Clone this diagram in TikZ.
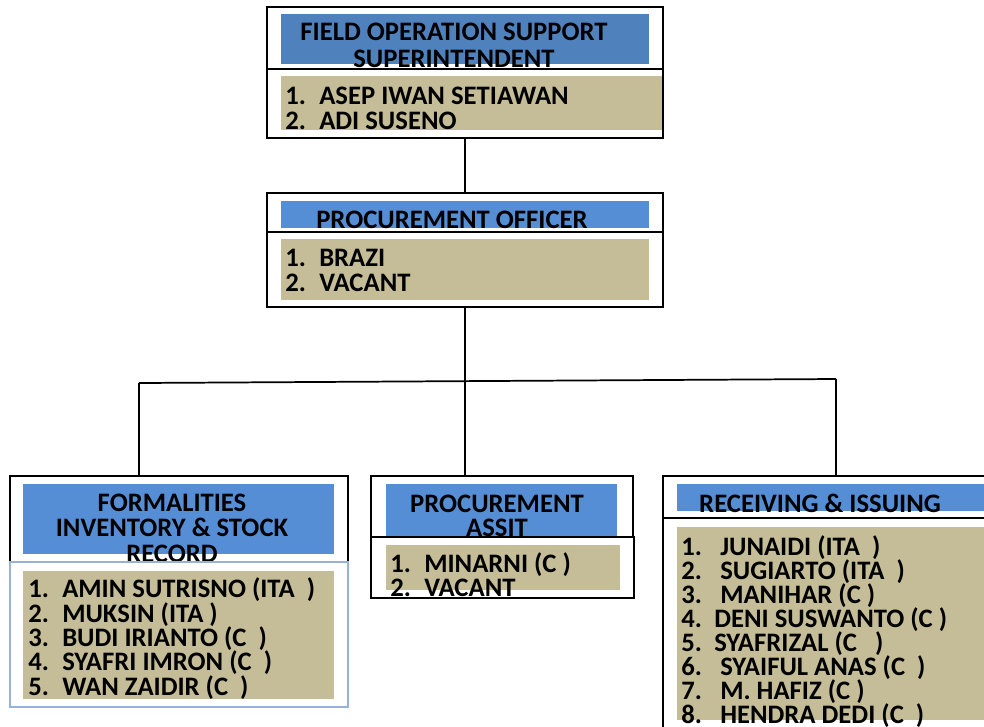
\documentclass[tikz,border=0pt]{standalone}
\usepackage{fontspec}
\setmainfont{Carlito}
\usetikzlibrary{positioning,fit}
\definecolor{headblue}{RGB}{79,129,189}
\definecolor{titleblue}{RGB}{85,142,213}
\definecolor{nametan}{RGB}{196,189,151}
\definecolor{edgeblue}{RGB}{149,179,215}
% number column in the name lists
\newcommand{\nr}[2][25.5pt]{\makebox[#1][l]{#2}}

\begin{document}
\begin{tikzpicture}[
    x=0.75pt, y=-0.75pt,
    font=\fontsize{20}{18}\selectfont\bfseries,
    frame/.style={draw=black, line width=1.3pt, inner sep=0pt},
    titlefill/.style={fill=titleblue, inner sep=0pt},
    namefill/.style={fill=nametan, inner sep=0pt},
    titletext/.style={align=center, inner sep=0pt, anchor=base},
    nametext/.style={align=left, inner sep=0pt, anchor=base west},
    link/.style={draw=black, line width=1.3pt},
]
\path[use as bounding box, clip] (0,0) rectangle (984,726);

% === Field Operation Support Superintendent ===
\node[titlefill, fill=headblue, fit={(281,14) (649,64)}] (fosT) {};
\node[namefill, fit={(281,76) (663,130)}] (fosN) {};
\node[titletext, font=\fontsize{20}{20.25}\selectfont\bfseries] (fostitle) at (454,67) {FIELD OPERATION SUPPORT\\SUPERINTENDENT};
\node[nametext, font=\fontsize{20}{18.4}\selectfont\bfseries] (fosnames) at (285,129) {\nr{1.}ASEP IWAN SETIAWAN\\\nr{2.}ADI SUSENO};
\node[frame, fit={(267,7) (663,69)}] (fosup) {};
\node[frame, fit={(267,69) (663,138)}] (fosdown) {};

% === Procurement Officer ===
\node[titlefill, fit={(281,201) (649,228)}] (poT) {};
\node[namefill, fit={(281,239) (649,300)}] (poN) {};
\node[titletext] (potitle) at (452,228) {PROCUREMENT OFFICER};
\node[nametext, font=\fontsize{20}{18.75}\selectfont\bfseries] (ponames) at (285,291) {\nr{1.}BRAZI\\\nr{2.}VACANT};
\node[frame, fit={(267,193) (663,232)}] (poup) {};
\node[frame, fit={(267,232) (663,307)}] (podown) {};

% === Formalities Inventory & Stock Record ===
\node[titlefill, fit={(23,484) (334,554)}] (fiT) {};
\node[namefill, fit={(23,571) (334,699)}] (fiN) {};
\node[titletext, font=\fontsize{20}{19.1}\selectfont\bfseries] (fititle) at (172,562) {FORMALITIES\\INVENTORY \& STOCK\\RECORD};
\node[frame, fit={(10,476) (348,562)}] (fiup) {};
\node[frame, draw=edgeblue, line width=1pt, fit={(10,562) (348,707)}] (fidown) {};
\node[nametext, font=\fontsize{20}{18.2}\selectfont\bfseries] (finames) at (28,695) {\nr{1.}AMIN SUTRISNO (ITA~~)\\\nr{2.}MUKSIN (ITA~)\\\nr{3.}BUDI IRIANTO (C~~)\\\nr{4.}SYAFRI IMRON (C~~)\\\nr{5.}WAN ZAIDIR (C~~)};

% === Procurement Assit ===
\node[titlefill, fit={(386,484) (617,537)}] (paT) {};
\node[titletext] (patitle) at (497,536) {PROCUREMENT\\ASSIT};
\node[frame, fit={(371,476) (633,537)}] (paup) {};
\node[namefill, fit={(386,545) (620,590)}] (paN) {};
\node[frame, fit={(371,537) (634,598)}] (padown) {};
\node[nametext] (panames) at (390,596) {\nr{1.}MINARNI (C )\\\nr{2.}VACANT};

% === Receiving & Issuing ===
\node[titlefill, fit={(677,484) (1000,511)}] (riT) {};
\node[namefill, fit={(677,527) (1000,720)}] (riN) {};
\node[titletext] (rititle) at (820,512) {RECEIVING \& ISSUING};
\node[nametext] (rinames) at (681,723) {\nr[29.25pt]{1.}JUNAIDI (ITA~~)\\\nr[29.25pt]{2.}SUGIARTO (ITA~~)\\\nr[29.25pt]{3.}MANIHAR (C )\\\nr[24.75pt]{4.}DENI SUSWANTO (C )\\\nr[24.75pt]{5.}SYAFRIZAL (C~~~)\\\nr[29.25pt]{6.}SYAIFUL ANAS (C~~)\\\nr[29.25pt]{7.}M. HAFIZ (C )\\\nr[29.25pt]{8.}HENDRA DEDI (C~~)};
\node[frame, fit={(663,476) (1000,518)}] (riup) {};
\node[frame, fit={(663,518) (1000,760)}] (ridown) {};

% === Connectors ===
\coordinate (busL) at (139,383);
\coordinate (busR) at (836,379);
\draw[link] (fosdown.south) -- (poup.north);
\draw[link] (podown.south) -- (podown.south |- paup.north);
\draw[link] (busL) -- (busR);
\draw[link] (busL) -- (busL |- fiup.north);
\draw[link] (busR) -- (busR |- riup.north);

\end{tikzpicture}
\end{document}
